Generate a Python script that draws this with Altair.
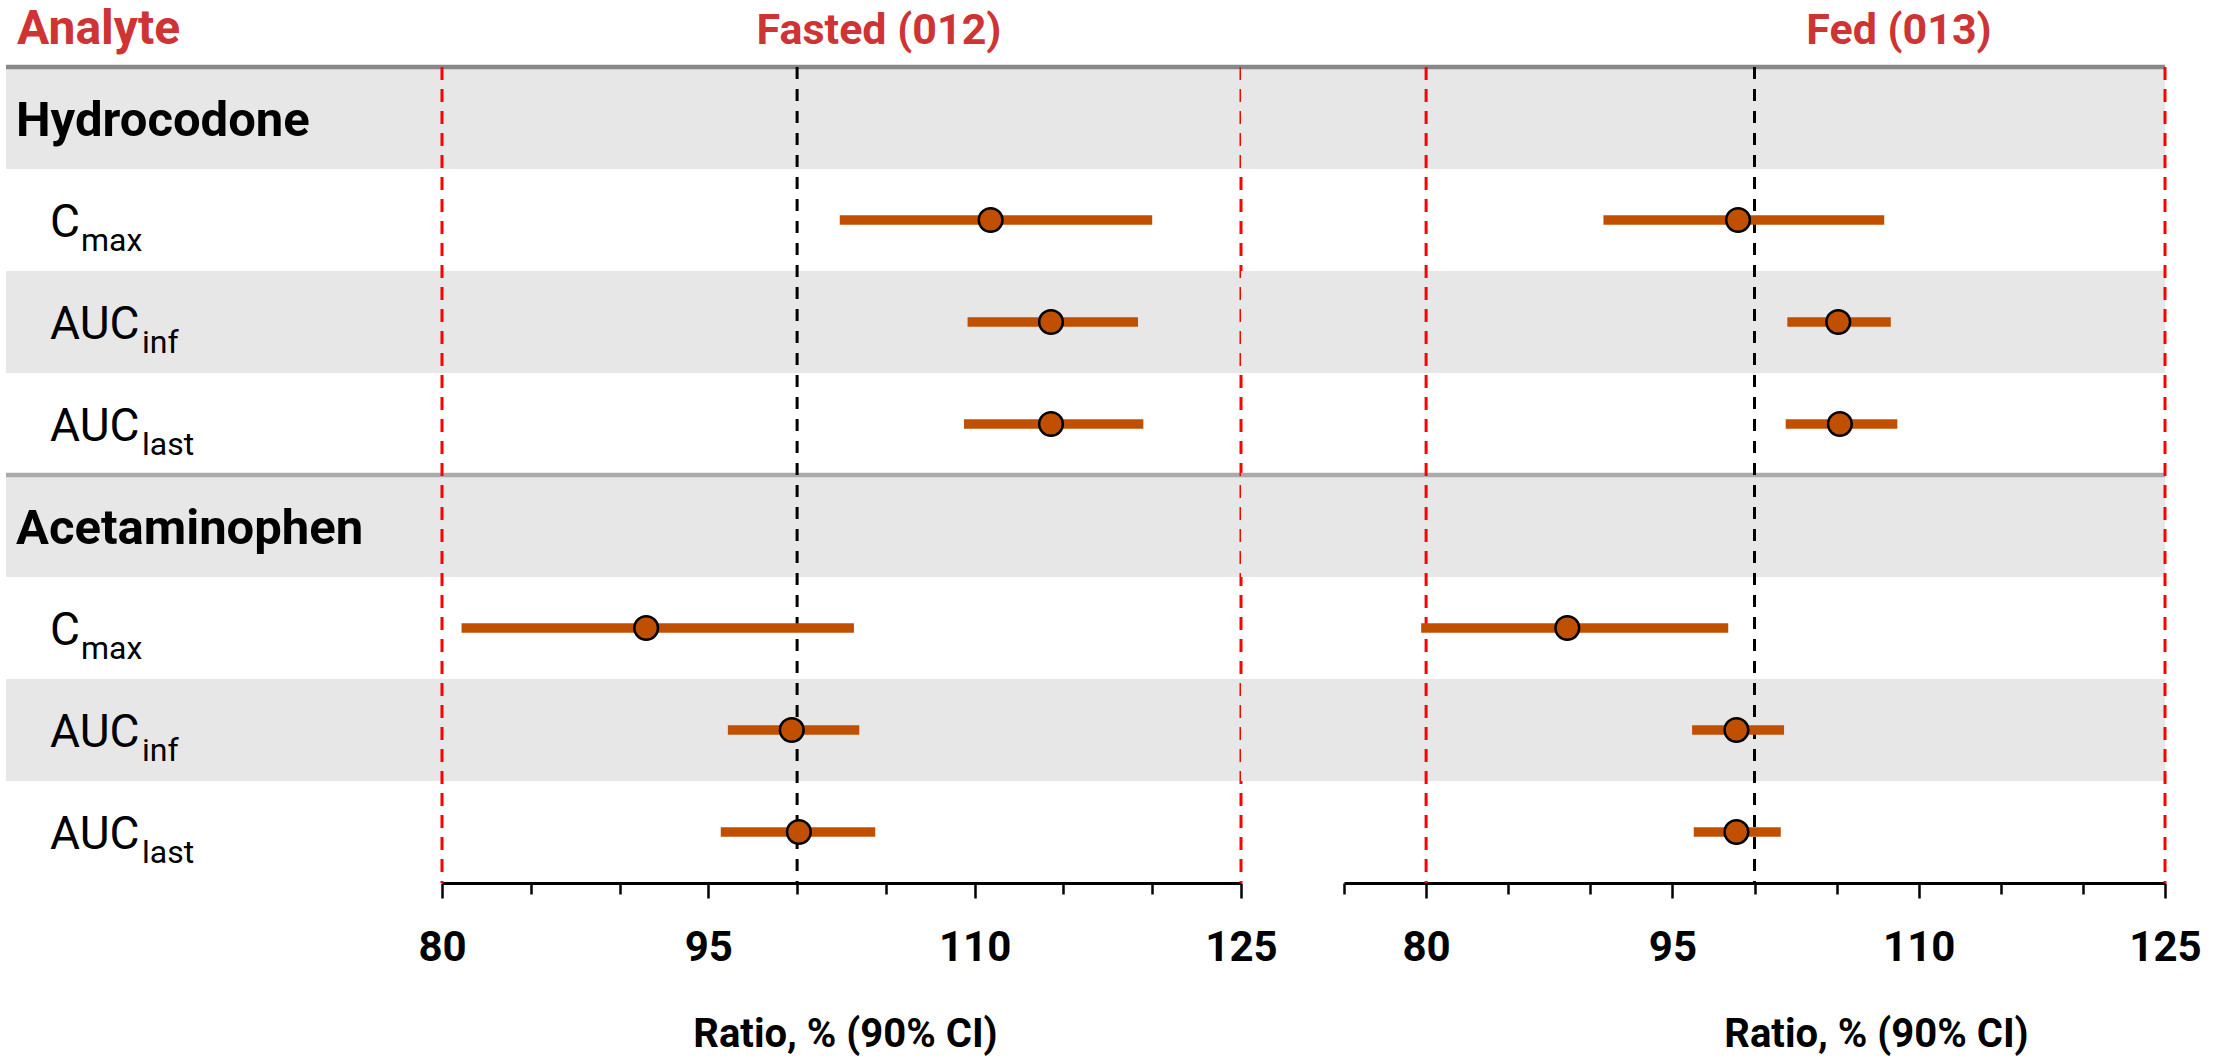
import altair as alt
import pandas as pd

# ---------------- data ----------------
analytes = ["Hydrocodone", "Acetaminophen"]
param_base = ["C", "AUC", "AUC"]
param_sub = ["max", "inf", "last"]
panel_titles = ["Fasted (012)", "Fed (013)"]
column_title = "Analyte"
axis_title = "Ratio, % (90% CI)"

# order: Hydrocodone Cmax, AUCinf, AUClast, Acetaminophen Cmax, AUCinf, AUClast
fasted_ratio = [110.9, 114.3, 114.3, 91.5, 99.7, 100.1]
fasted_lower = [102.4, 109.6, 109.4, 81.1, 96.1, 95.7]
fasted_upper = [120.0, 119.2, 119.5, 103.2, 103.5, 104.4]
fed_ratio = [99.0, 105.1, 105.2, 88.6, 98.9, 98.9]
fed_lower = [90.8, 102.0, 101.9, 79.7, 96.2, 96.3]
fed_upper = [107.9, 108.3, 108.7, 98.4, 101.8, 101.6]

fasted_domain = [80, 125]
fed_domain = [75, 125]
tick_step_values = [75, 80, 85, 90, 95, 100, 105, 110, 115, 120, 125]
labelled_ticks = [80, 95, 110, 125]
limit_lines = [80, 125]
unity_line = [100]

# ---------------- styles ----------------
FONT = "Roboto"
RED_TITLE = "#CF3434"
BAR = "#C05000"
POINT = "#C05000"
BAND = "#E7E7E7"
N_ROWS = 8
ROW_H = 102
H = N_ROWS * ROW_H

# ---------------- tables ----------------
rows = []
r = 0
for a in analytes:
    rows.append(dict(row=r, header=a, base="", sub="", kind="header"))
    r += 1
    for b, s in zip(param_base, param_sub):
        rows.append(dict(row=r, header="", base=b, sub=s, kind="param"))
        r += 1
rows_df = pd.DataFrame(rows)
rows_df["shade"] = rows_df["row"] % 2 == 0
param_rows = rows_df.loc[rows_df.kind == "param", "row"].tolist()

fasted_df = pd.DataFrame(dict(row=param_rows, ratio=fasted_ratio, lower=fasted_lower, upper=fasted_upper))
fed_df = pd.DataFrame(dict(row=param_rows, ratio=fed_ratio, lower=fed_lower, upper=fed_upper))
limits_df = pd.DataFrame(dict(value=limit_lines))
unity_df = pd.DataFrame(dict(value=unity_line))

yscale = alt.Scale(type="band", domain=list(range(N_ROWS)), paddingInner=0, paddingOuter=0)
Y = alt.Y("row:O", scale=yscale, axis=None)
Yc = alt.Y("row:O", scale=yscale, axis=None, bandPosition=0.5)
Yt = alt.Y("row:O", scale=yscale, axis=None, bandPosition=0)


def background(W):
    base = alt.Chart(rows_df)
    bands = base.transform_filter("datum.shade").mark_rect(color=BAND).encode(
        y=Y, x=alt.value(0), x2=alt.value(W))
    top_line = base.transform_filter("datum.row == 0").mark_rule(
        color="#888888", strokeWidth=4.5).encode(y=Yt, x=alt.value(0), x2=alt.value(W))
    sep_line = base.transform_filter("datum.kind == 'header' && datum.row > 0").mark_rule(
        color="#AAAAAA", strokeWidth=4.5).encode(y=Yt, x=alt.value(0), x2=alt.value(W))
    return [bands, top_line, sep_line]


def title_text(text, x, size, align="center"):
    return alt.Chart(pd.DataFrame(dict(t=[text]))).mark_text(
        font=FONT, fontSize=size, fontWeight="bold", color=RED_TITLE,
        align=align, baseline="alphabetic").encode(
        text="t:N", x=alt.value(x), y=alt.value(-23))


# ---------------- label column ----------------
LW = 436
lbl = alt.Chart(rows_df)
header_text = lbl.transform_filter("datum.kind == 'header'").mark_text(
    font=FONT, fontSize=49, fontWeight="bold", color="black", align="left",
    baseline="alphabetic", dy=18).encode(y=Yc, x=alt.value(10), text="header:N")
base_text = lbl.transform_filter("datum.kind == 'param'").mark_text(
    font=FONT, fontSize=46, color="black", align="left",
    baseline="alphabetic", dy=17).encode(y=Yc, x=alt.value(44), text="base:N")
sub_c = lbl.transform_filter("datum.kind == 'param' && datum.base == 'C'").mark_text(
    font=FONT, fontSize=32, color="black", align="left",
    baseline="alphabetic", dy=31).encode(y=Yc, x=alt.value(75), text="sub:N")
sub_auc = lbl.transform_filter("datum.kind == 'param' && datum.base == 'AUC'").mark_text(
    font=FONT, fontSize=32, color="black", align="left",
    baseline="alphabetic", dy=31).encode(y=Yc, x=alt.value(136), text="sub:N")

labels_chart = alt.layer(
    *background(LW), header_text, base_text, sub_c, sub_auc,
    title_text(column_title, 11, 48, align="left"),
).properties(width=LW, height=H)

# ---------------- panels ----------------
label_expr = "indexof(" + str(labelled_ticks) + ", datum.value) >= 0 ? datum.label : ''"
tick_cond = {"condition": {"test": "indexof(" + str(labelled_ticks) + ", datum.value) >= 0", "value": 15}, "value": 11}


def panel(df, W, domain, title, title_x, axis_title_x):
    xs = alt.Scale(domain=domain, nice=False, zero=False)
    vals = [v for v in tick_step_values if domain[0] <= v <= domain[1]]
    ax = alt.Axis(
        values=vals, labelExpr=label_expr, grid=False,
        domainColor="black", domainWidth=3, tickColor="black", tickWidth=2.5,
        tickSize=tick_cond, labelFont=FONT, labelFontSize=42, labelFontWeight="bold",
        labelColor="black", labelPadding=62, labelBaseline="alphabetic",
        labelFlush=False, labelOverlap=False,
        title=axis_title, titleFont=FONT, titleFontSize=40, titleFontWeight="bold",
        titleColor="black", titleX=axis_title_x, titleY=163, titleBaseline="alphabetic",
        titleAlign="center",
    )
    limits = alt.Chart(limits_df).mark_rule(
        color="#FF0000", strokeWidth=3, strokeDash=[13, 9]).encode(
        x=alt.X("value:Q", scale=xs, axis=ax))
    unity = alt.Chart(unity_df).mark_rule(
        color="black", strokeWidth=3, strokeDash=[12, 10]).encode(
        x=alt.X("value:Q", scale=xs, axis=ax))
    base = alt.Chart(df)
    ci = base.mark_rule(color=BAR, strokeWidth=9.3, strokeCap="butt").encode(
        x=alt.X("lower:Q", scale=xs, axis=ax), x2="upper:Q", y=Yc)
    pts = base.mark_point(shape="circle", filled=True, size=560, fill=POINT,
                          stroke="black", strokeWidth=2.5, opacity=1).encode(
        x=alt.X("ratio:Q", scale=xs, axis=ax), y=Yc)
    return alt.layer(
        *background(W), limits, unity, ci, pts, title_text(title, title_x, 43),
    ).properties(width=W, height=H)


left = panel(fasted_df, 799, fasted_domain, panel_titles[0], 437, 403)

GW = 103
gap = alt.layer(*background(GW)).properties(width=GW, height=H)

right = panel(fed_df, 821, fed_domain, panel_titles[1], 555, 532)

chart = alt.hconcat(labels_chart, left, gap, right, spacing=0, bounds="flush").properties(
    padding={"left": 3, "top": 6, "right": 0, "bottom": 6},
    background="white",
).configure_view(stroke=None)

chart.save("out.html", embed_options={"renderer": "svg", "actions": False})
